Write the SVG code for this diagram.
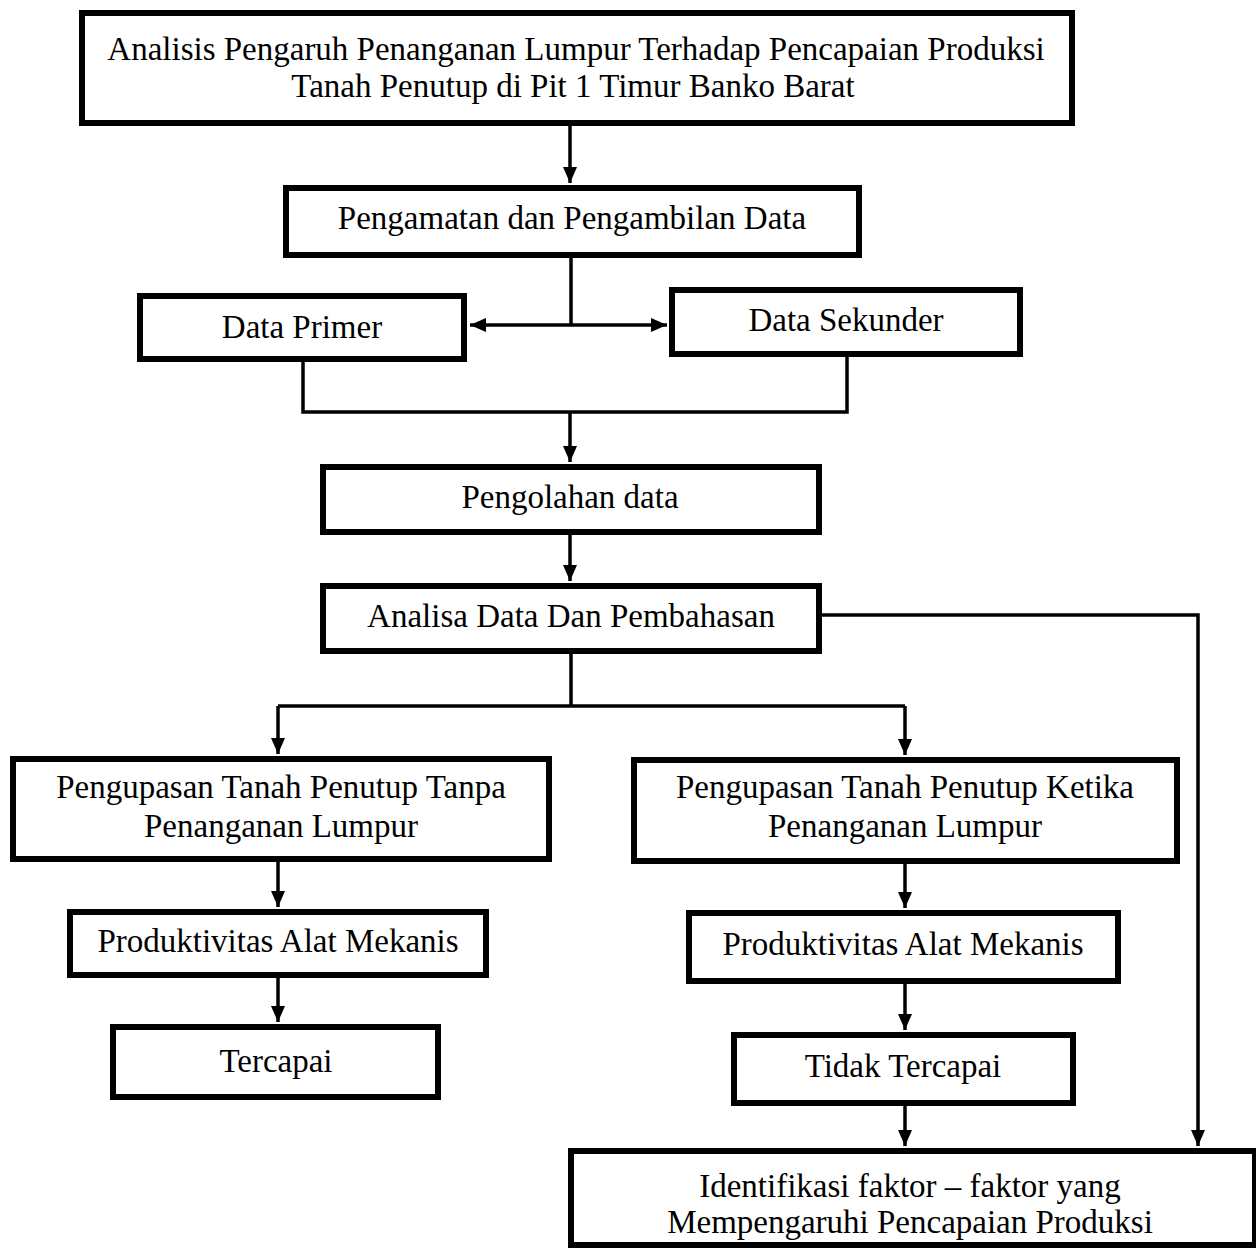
<svg xmlns="http://www.w3.org/2000/svg" width="1256" height="1251" viewBox="0 0 1256 1251">
<style>
.box{fill:#fff;stroke:#000;stroke-width:6}
.t{font-family:"Liberation Serif","Times New Roman",serif;font-size:33px;fill:#000;text-anchor:middle}
.c{fill:none;stroke:#000;stroke-width:3.5}
</style>
<defs>
<marker id="ah" markerUnits="userSpaceOnUse" markerWidth="16" markerHeight="14" refX="16" refY="7" orient="auto-start-reverse">
<path d="M0,0 L16,7 L0,14 z" fill="#000"/>
</marker>
</defs>
<rect width="1256" height="1251" fill="#fff"/>
<g id="connectors">
<path class="c" d="M570,126 V183" marker-end="url(#ah)"/>
<path class="c" d="M571,258 V325"/>
<path class="c" d="M470,325 H667" marker-start="url(#ah)" marker-end="url(#ah)"/>
<path class="c" d="M303,362 V412 H847 V357"/>
<path class="c" d="M570,412 V462" marker-end="url(#ah)"/>
<path class="c" d="M570,535 V581" marker-end="url(#ah)"/>
<path class="c" d="M822,615 H1198 V1146" marker-end="url(#ah)"/>
<path class="c" d="M571,654 V706"/>
<path class="c" d="M278,706 H905"/>
<path class="c" d="M278,706 V754" marker-end="url(#ah)"/>
<path class="c" d="M905,706 V755" marker-end="url(#ah)"/>
<path class="c" d="M278,862 V907" marker-end="url(#ah)"/>
<path class="c" d="M905,864 V908" marker-end="url(#ah)"/>
<path class="c" d="M278,978 V1022" marker-end="url(#ah)"/>
<path class="c" d="M905,984 V1030" marker-end="url(#ah)"/>
<path class="c" d="M905,1106 V1146" marker-end="url(#ah)"/>
</g>
<g id="n1"><rect class="box" x="82" y="13" width="990" height="110"/>
<text class="t" x="576" y="60">Analisis Pengaruh Penanganan Lumpur Terhadap Pencapaian Produksi</text>
<text class="t" x="573" y="97">Tanah Penutup di Pit 1 Timur Banko Barat</text></g>
<g id="n2"><rect class="box" x="286" y="188" width="573" height="67"/>
<text class="t" x="572" y="229">Pengamatan dan Pengambilan Data</text></g>
<g id="n3"><rect class="box" x="140" y="296" width="324" height="63"/>
<text class="t" x="302" y="338">Data Primer</text></g>
<g id="n4"><rect class="box" x="672" y="290" width="348" height="64"/>
<text class="t" x="846" y="331">Data Sekunder</text></g>
<g id="n5"><rect class="box" x="323" y="467" width="496" height="65"/>
<text class="t" x="570" y="508">Pengolahan data</text></g>
<g id="n6"><rect class="box" x="323" y="586" width="496" height="65"/>
<text class="t" x="571" y="627">Analisa Data Dan Pembahasan</text></g>
<g id="n7"><rect class="box" x="13" y="759" width="536" height="100"/>
<text class="t" x="281" y="798">Pengupasan Tanah Penutup Tanpa</text>
<text class="t" x="281" y="837">Penanganan Lumpur</text></g>
<g id="n8"><rect class="box" x="634" y="760" width="543" height="101"/>
<text class="t" x="905" y="798">Pengupasan Tanah Penutup Ketika</text>
<text class="t" x="905" y="837">Penanganan Lumpur</text></g>
<g id="n9"><rect class="box" x="70" y="912" width="416" height="63"/>
<text class="t" x="278" y="952">Produktivitas Alat Mekanis</text></g>
<g id="n10"><rect class="box" x="689" y="913" width="429" height="68"/>
<text class="t" x="903" y="955">Produktivitas Alat Mekanis</text></g>
<g id="n11"><rect class="box" x="113" y="1027" width="325" height="70"/>
<text class="t" x="276" y="1072">Tercapai</text></g>
<g id="n12"><rect class="box" x="734" y="1035" width="339" height="68"/>
<text class="t" x="903" y="1077">Tidak Tercapai</text></g>
<g id="n13"><rect class="box" x="571" y="1151" width="684" height="94"/>
<text class="t" x="910" y="1197">Identifikasi faktor – faktor yang</text>
<text class="t" x="910" y="1233">Mempengaruhi Pencapaian Produksi</text></g>
</svg>
